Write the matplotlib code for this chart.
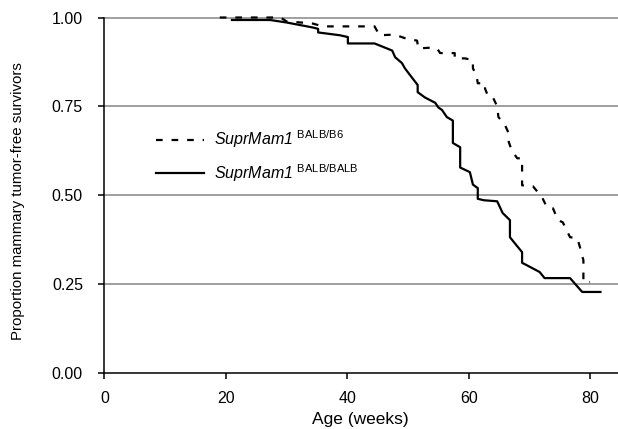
import numpy as np
import matplotlib
matplotlib.use("Agg")
import matplotlib.pyplot as plt

plt.rcParams['font.family'] = ['Liberation Sans', 'DejaVu Sans']
plt.rcParams['mathtext.fontset'] = 'custom'
plt.rcParams['mathtext.rm'] = 'Liberation Sans'
plt.rcParams['mathtext.sf'] = 'Liberation Sans:italic'

# Kaplan-Meier style curves (age in weeks, proportion)
b6_age = [19, 29, 30.0, 32.3, 34.3, 36.0, 44.5, 45.3, 47.8, 49.8, 51.5, 51.7,
          53.6, 54.8, 55.3, 57.7, 57.7, 59.4, 60.7, 60.7, 61.3, 61.5, 62.7,
          62.7, 63.2, 64.0, 64.7, 64.9, 66.0, 66.6, 66.6, 67.1, 68.0, 68.8,
          68.8, 70.6, 72.1, 72.9, 73.9, 74.7, 75.5, 76.7, 77.9, 78.4, 78.9,
          78.9, 80.0]
b6_surv = [1.00, 1.00, 0.989, 0.986, 0.983, 0.975, 0.975, 0.95, 0.952, 0.94,
           0.935, 0.913, 0.915, 0.913, 0.90, 0.90, 0.885, 0.885, 0.88, 0.857,
           0.837, 0.815, 0.815, 0.80, 0.778, 0.775, 0.75, 0.72, 0.697, 0.674,
           0.65, 0.626, 0.604, 0.604, 0.528, 0.525, 0.494, 0.466, 0.463, 0.43,
           0.424, 0.382, 0.379, 0.35, 0.317, 0.256, 0.256]

balb_age = [21, 27.3, 30.0, 34.3, 35.2, 35.2, 38.8, 40.1, 40.1, 44.5, 47.4,
            47.9, 49.0, 49.5, 50.7, 51.6, 51.6, 52.8, 54.5, 55.0, 55.6, 56.4,
            57.4, 57.4, 58.6, 58.6, 60.2, 60.7, 61.5, 61.5, 62.5, 64.7, 65.6,
            66.8, 66.8, 67.6, 68.8, 68.8, 69.6, 71.7, 72.5, 76.7, 78.7, 81.7]
balb_surv = [0.993, 0.993, 0.986, 0.972, 0.968, 0.958, 0.95, 0.945, 0.927,
             0.927, 0.907, 0.888, 0.872, 0.857, 0.83, 0.81, 0.79, 0.775, 0.76,
             0.747, 0.74, 0.72, 0.71, 0.647, 0.635, 0.578, 0.565, 0.53, 0.52,
             0.49, 0.486, 0.483, 0.45, 0.43, 0.382, 0.365, 0.34, 0.31, 0.303,
             0.284, 0.267, 0.267, 0.228, 0.228]

y_ticks = [0.00, 0.25, 0.50, 0.75, 1.00]
x_ticks = [0, 20, 40, 60, 80]

fig = plt.figure(figsize=(6.18, 4.29), dpi=100)
ax = fig.add_axes([0.169, 0.1305, 0.831, 0.8287])

for y in y_ticks[1:]:
    ax.axhline(y, color='#858585', lw=1.1, zorder=1, clip_on=False)

ax.plot(b6_age, b6_surv, color='black', lw=1.6, dashes=[3, 4],
        clip_on=False, zorder=3,
        label=r'$\mathsf{SuprMam1}$ $^{\mathrm{BALB/B6}}$')
ax.plot(balb_age, balb_surv, color='black', lw=1.6, clip_on=False, zorder=3,
        label=r'$\mathsf{SuprMam1}$ $^{\mathrm{BALB/BALB}}$')

ax.set_xlim(0, 84.6)
ax.set_ylim(0, 1.0)
ax.set_xticks(x_ticks)
ax.set_yticks(y_ticks)
ax.set_yticklabels([f'{v:.2f}' for v in y_ticks])
ax.tick_params(labelsize=11.5, length=4, width=1.1, color='black')
ax.tick_params(axis='y', pad=11.5)
ax.tick_params(axis='x', pad=9)
for s in ['top', 'right']:
    ax.spines[s].set_visible(False)
for s in ['left', 'bottom']:
    ax.spines[s].set_linewidth(1.1)

ax.set_xlabel('Age (weeks)', fontsize=12.5, va='top')
ax.xaxis.set_label_coords(0.4976, -0.11)
ax.set_ylabel('Proportion mammary tumor-free survivors', fontsize=10.8)
ax.yaxis.set_label_coords(-0.155, 0.484)

ax.legend(loc='upper left', bbox_to_anchor=(0.085, 0.71), frameon=False,
          fontsize=11.5, handlelength=3.0, handletextpad=0.6, borderpad=0,
          labelspacing=0.75)

fig.savefig('out.png', dpi=100)
